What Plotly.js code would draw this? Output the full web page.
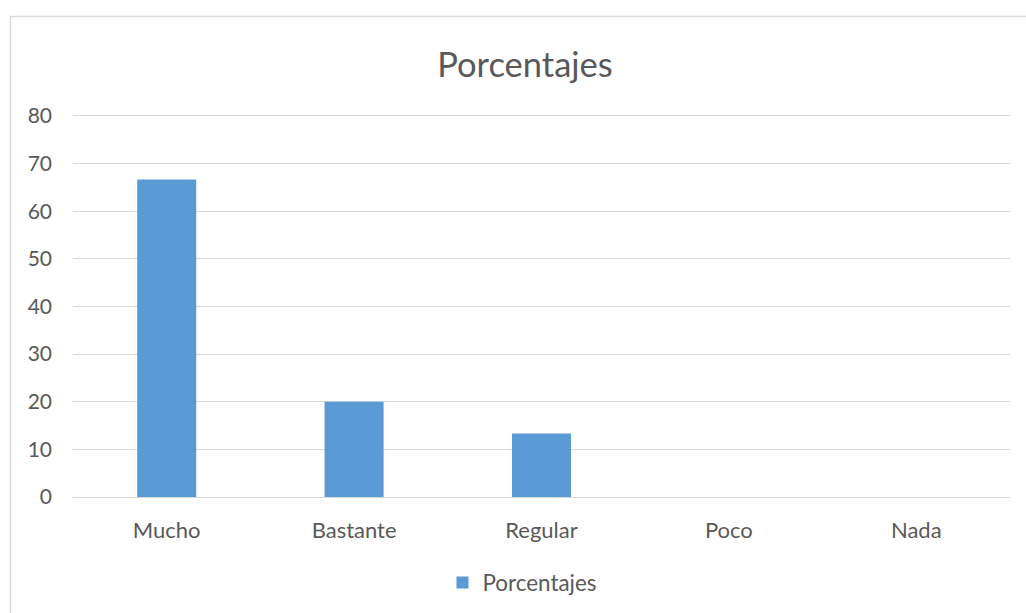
<!DOCTYPE html>
<html>
<head>
<meta charset="utf-8">
<script src="https://cdn.plot.ly/plotly-3.0.1.min.js"></script>
<style>html,body{margin:0;padding:0;background:#fff;}#chart{width:1026px;height:613px;}</style>
</head>
<body>
<div id="chart"></div>
<script>
const categories = ["Mucho", "Bastante", "Regular", "Poco", "Nada"];
const porcentajes = [66.67, 20, 13.33, 0, 0];
const seriesName = "Porcentajes";
const chartTitle = "Porcentajes";

const textColor = "#595959";
const fontFamily = "Lato, 'Open Sans', sans-serif";

const trace = {
  type: "bar",
  x: categories,
  y: porcentajes,
  name: seriesName,
  marker: { color: "#5b9bd5" },
  showlegend: true,
  hoverinfo: "x+y"
};

const layout = {
  width: 1026,
  height: 613,
  paper_bgcolor: "#ffffff",
  plot_bgcolor: "#ffffff",
  font: { family: fontFamily, color: textColor, size: 21 },
  margin: { l: 73, r: 15.5, t: 116, b: 116, pad: 0, autoexpand: false },
  title: {
    text: chartTitle,
    font: { family: fontFamily, size: 34.5, color: textColor },
    x: 525 / 1026, xanchor: "center", xref: "container",
    y: 1 - 65 / 613, yanchor: "middle", yref: "container"
  },
  bargap: 0.685,
  xaxis: {
    type: "category",
    showgrid: false,
    showline: true,
    mirror: true,
    linecolor: "#d9d9d9",
    linewidth: 1,
    ticks: "",
    automargin: false,
    ticklabelstandoff: 14,
    tickfont: { family: fontFamily, size: 22, color: textColor },
    fixedrange: true
  },
  yaxis: {
    range: [0, 80],
    dtick: 10,
    tick0: 0,
    showgrid: true,
    gridcolor: "#d9d9d9",
    gridwidth: 1,
    zeroline: false,
    showline: false,
    ticks: "",
    automargin: false,
    ticklabelstandoff: 20,
    tickfont: { family: fontFamily, size: 21, color: textColor },
    fixedrange: true
  },
  showlegend: true,
  legend: {
    orientation: "h",
    x: 522 / 1026, xanchor: "center", xref: "container",
    y: 1 - 583 / 613, yanchor: "middle", yref: "container",
    font: { family: fontFamily, size: 22.4, color: textColor },
    bgcolor: "rgba(0,0,0,0)"
  },
  shapes: [{
    type: "rect",
    xref: "paper", yref: "paper",
    x0: (10.5 - 73) / 937.5, x1: 1.2,
    y0: -0.6, y1: (497 - 16.5) / 381,
    line: { color: "#d9d9d9", width: 1.5 },
    fillcolor: "rgba(0,0,0,0)",
    layer: "below"
  }]
};

Plotly.newPlot("chart", [trace], layout, { displayModeBar: false, staticPlot: false });
</script>
</body>
</html>
